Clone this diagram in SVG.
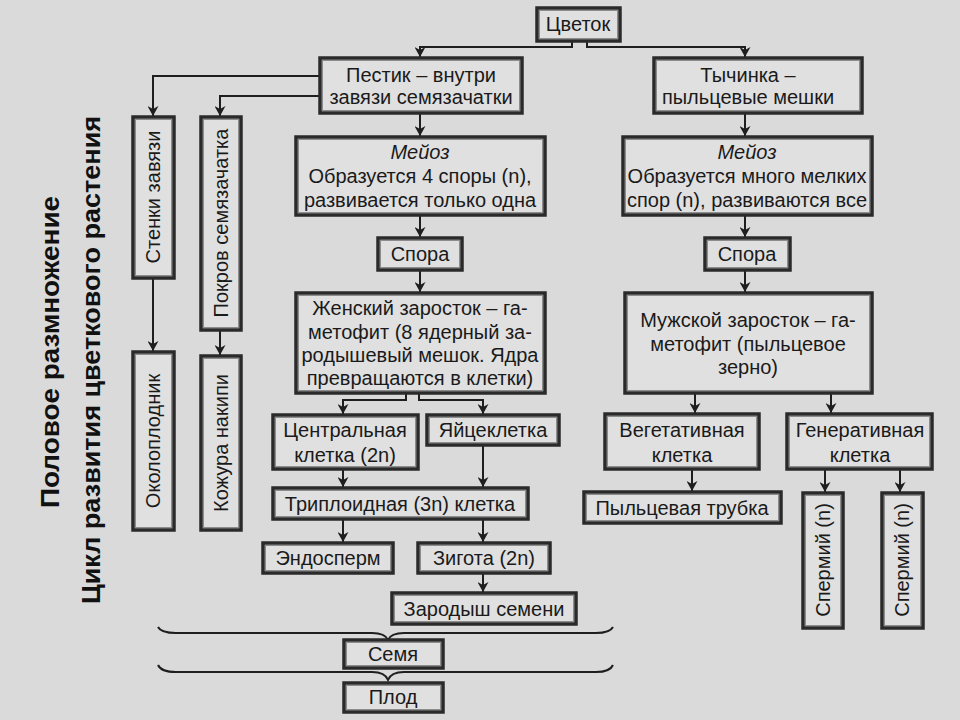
<svg xmlns="http://www.w3.org/2000/svg" width="960" height="720" viewBox="0 0 960 720">
<defs>
<style>
.bx{fill:#e0e0e0;stroke:#2a2a2a;stroke-width:3.5}
.bi{fill:none;stroke:#8c8c8c;stroke-width:1}
.t{font-family:"Liberation Sans",Arial,sans-serif;font-size:20px;fill:#1a1a1a;text-anchor:middle}
.i{font-style:italic}
.ttl{font-family:"Liberation Sans",Arial,sans-serif;font-size:26px;font-weight:bold;fill:#111;text-anchor:middle}
.c{fill:none;stroke:#1e1e1e;stroke-width:2}
.a{marker-end:url(#arr)}
.br{fill:none;stroke:#1e1e1e;stroke-width:2}
</style>
<marker id="arr" markerUnits="userSpaceOnUse" markerWidth="10" markerHeight="11" refX="10" refY="5.5" orient="auto">
<path d="M0,0 L10,5.5 L0,11 L3,5.5 z" fill="#1e1e1e"/>
</marker>
</defs>
<rect x="0" y="0" width="960" height="720" fill="#dadada"/>

<g id="title">
<text class="ttl" transform="translate(50,352) rotate(-90)" dy="0.35em" textLength="312" lengthAdjust="spacingAndGlyphs">Половое размножение</text>
<text class="ttl" transform="translate(91,360) rotate(-90)" dy="0.35em" textLength="488" lengthAdjust="spacingAndGlyphs">Цикл развития цветкового растения</text>
</g>

<g id="connectors">
<path class="c a" d="M572,41 V47 H420 V57"/>
<path class="c a" d="M587,41 V47 H745 V57"/>
<path class="c a" d="M320,76 H153 V116"/>
<path class="c a" d="M320,96 H220 V116"/>
<path class="c a" d="M153,278 V351"/>
<path class="c a" d="M220,330 V355"/>
<path class="c a" d="M420,113 V136"/>
<path class="c a" d="M420,215 V237"/>
<path class="c a" d="M420,270 V292"/>
<path class="c a" d="M406,393 V400 H343 V414"/>
<path class="c a" d="M419,393 V400 H483 V414"/>
<path class="c a" d="M343,469 V487"/>
<path class="c a" d="M483,445 V487"/>
<path class="c a" d="M343,519 V542"/>
<path class="c a" d="M483,519 V542"/>
<path class="c a" d="M483,573 V592"/>
<path class="c a" d="M745,113 V136"/>
<path class="c a" d="M745,215 V237"/>
<path class="c a" d="M745,270 V292"/>
<path class="c a" d="M695,393 V413"/>
<path class="c a" d="M831,393 V413"/>
<path class="c a" d="M692,469 V491"/>
<path class="c a" d="M825,469 V492"/>
<path class="c a" d="M900,469 V492"/>
<path class="br" d="M158,627 Q161,633 176,633 H372 Q385,633 388,640 Q391,633 404,633 H596 Q610,633 613,627"/>
<path class="br" d="M158,665 Q161,672 176,672 H372 Q385,672 388,680 Q391,672 404,672 H596 Q610,672 613,665"/>
</g>

<g id="n-cvetok"><rect class="bx" x="537" y="8" width="83" height="33"/><rect class="bi" x="539.5" y="10.5" width="78" height="28"/><text class="t" x="578" y="31">Цветок</text></g>

<g id="n-pestik"><rect class="bx" x="320" y="58" width="202" height="55"/><rect class="bi" x="322.5" y="60.5" width="197" height="50"/><text class="t" x="421" y="82">Пестик – внутри</text><text class="t" x="421" y="104">завязи семязачатки</text></g>

<g id="n-tychinka"><rect class="bx" x="654" y="58" width="208" height="55"/><rect class="bi" x="656.5" y="60.5" width="203" height="50"/><text class="t" x="748" y="82">Тычинка –</text><text class="t" x="748" y="104">пыльцевые мешки</text></g>

<g id="n-stenki"><rect class="bx" x="133" y="117" width="41" height="161"/><rect class="bi" x="135.5" y="119.5" width="36" height="156"/><text class="t" transform="translate(153,197) rotate(-90)" dy="0.35em">Стенки завязи</text></g>

<g id="n-pokrov"><rect class="bx" x="201" y="117" width="40" height="213"/><rect class="bi" x="203.5" y="119.5" width="35" height="208"/><text class="t" transform="translate(221,223) rotate(-90)" dy="0.35em">Покров семязачатка</text></g>

<g id="n-okoloplodnik"><rect class="bx" x="133" y="352" width="41" height="178"/><rect class="bi" x="135.5" y="354.5" width="36" height="173"/><text class="t" transform="translate(153,441) rotate(-90)" dy="0.35em">Околоплодник</text></g>

<g id="n-kozhura"><rect class="bx" x="201" y="356" width="40" height="174"/><rect class="bi" x="203.5" y="358.5" width="35" height="169"/><text class="t" transform="translate(221,443) rotate(-90)" dy="0.35em">Кожура накипи</text></g>

<g id="n-meioz-f"><rect class="bx" x="296" y="137" width="249" height="78"/><rect class="bi" x="298.5" y="139.5" width="244" height="73"/><text class="t i" x="420" y="159">Мейоз</text><text class="t" x="420" y="183">Образуется 4 споры (n),</text><text class="t" x="420" y="207">развивается только одна</text></g>

<g id="n-meioz-m"><rect class="bx" x="623" y="137" width="249" height="78"/><rect class="bi" x="625.5" y="139.5" width="244" height="73"/><text class="t i" x="747" y="159">Мейоз</text><text class="t" x="747" y="183">Образуется много мелких</text><text class="t" x="747" y="207">спор (n), развиваются все</text></g>

<g id="n-spora-f"><rect class="bx" x="378" y="238" width="84" height="32"/><rect class="bi" x="380.5" y="240.5" width="79" height="27"/><text class="t" x="420" y="261">Спора</text></g>

<g id="n-spora-m"><rect class="bx" x="705" y="238" width="85" height="32"/><rect class="bi" x="707.5" y="240.5" width="80" height="27"/><text class="t" x="747" y="261">Спора</text></g>

<g id="n-zhensky"><rect class="bx" x="296" y="293" width="249" height="100"/><rect class="bi" x="298.5" y="295.5" width="244" height="95"/><text class="t" x="420" y="315">Женский заросток – га-</text><text class="t" x="420" y="339">метофит (8 ядерный за-</text><text class="t" x="420" y="362">родышевый мешок. Ядра</text><text class="t" x="420" y="385">превращаются в клетки)</text></g>

<g id="n-muzhskoy"><rect class="bx" x="625" y="293" width="247" height="100"/><rect class="bi" x="627.5" y="295.5" width="242" height="95"/><text class="t" x="748" y="327">Мужской заросток – га-</text><text class="t" x="748" y="351">метофит (пыльцевое</text><text class="t" x="748" y="374">зерно)</text></g>

<g id="n-central"><rect class="bx" x="273" y="415" width="145" height="54"/><rect class="bi" x="275.5" y="417.5" width="140" height="49"/><text class="t" x="345" y="437">Центральная</text><text class="t" x="345" y="462">клетка (2n)</text></g>

<g id="n-yaic"><rect class="bx" x="427" y="415" width="132" height="30"/><rect class="bi" x="429.5" y="417.5" width="127" height="25"/><text class="t" x="493" y="437">Яйцеклетка</text></g>

<g id="n-triploid"><rect class="bx" x="273" y="488" width="255" height="31"/><rect class="bi" x="275.5" y="490.5" width="250" height="26"/><text class="t" x="400" y="511">Триплоидная (3n) клетка</text></g>

<g id="n-endosperm"><rect class="bx" x="263" y="543" width="130" height="30"/><rect class="bi" x="265.5" y="545.5" width="125" height="25"/><text class="t" x="328" y="565">Эндосперм</text></g>

<g id="n-zigota"><rect class="bx" x="418" y="543" width="132" height="30"/><rect class="bi" x="420.5" y="545.5" width="127" height="25"/><text class="t" x="484" y="565">Зигота (2n)</text></g>

<g id="n-zarodysh"><rect class="bx" x="392" y="593" width="184" height="31"/><rect class="bi" x="394.5" y="595.5" width="179" height="26"/><text class="t" x="484" y="616">Зародыш семени</text></g>

<g id="n-semya"><rect class="bx" x="344" y="640" width="99" height="28"/><rect class="bi" x="346.5" y="642.5" width="94" height="23"/><text class="t" x="393" y="661">Семя</text></g>

<g id="n-plod"><rect class="bx" x="344" y="683" width="99" height="29"/><rect class="bi" x="346.5" y="685.5" width="94" height="24"/><text class="t" x="393" y="704">Плод</text></g>

<g id="n-veget"><rect class="bx" x="605" y="414" width="154" height="55"/><rect class="bi" x="607.5" y="416.5" width="149" height="50"/><text class="t" x="682" y="437">Вегетативная</text><text class="t" x="682" y="462">клетка</text></g>

<g id="n-generat"><rect class="bx" x="787" y="414" width="145" height="55"/><rect class="bi" x="789.5" y="416.5" width="140" height="50"/><text class="t" x="860" y="437">Генеративная</text><text class="t" x="860" y="462">клетка</text></g>

<g id="n-trubka"><rect class="bx" x="584" y="492" width="197" height="31"/><rect class="bi" x="586.5" y="494.5" width="192" height="26"/><text class="t" x="682" y="515">Пыльцевая трубка</text></g>

<g id="n-spermiy1"><rect class="bx" x="803" y="493" width="40" height="135"/><rect class="bi" x="805.5" y="495.5" width="35" height="130"/><text class="t" transform="translate(823,560) rotate(-90)" dy="0.35em">Спермий (n)</text></g>

<g id="n-spermiy2"><rect class="bx" x="882" y="493" width="41" height="135"/><rect class="bi" x="884.5" y="495.5" width="36" height="130"/><text class="t" transform="translate(902,560) rotate(-90)" dy="0.35em">Спермий (n)</text></g>
</svg>
